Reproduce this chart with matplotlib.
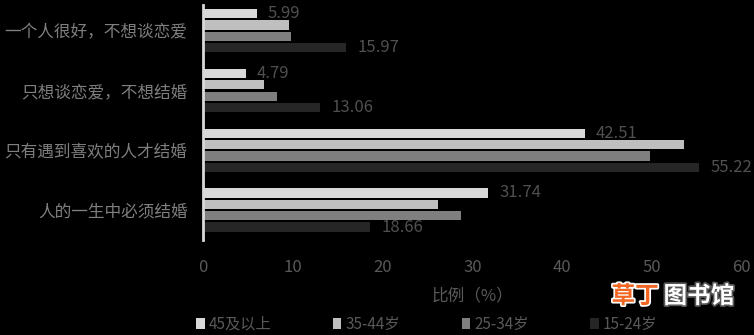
import numpy as np
import matplotlib
matplotlib.use('Agg')
import matplotlib.pyplot as plt
from matplotlib.patches import Patch
import matplotlib.patheffects as pe

plt.rcParams['font.family'] = ['Noto Sans CJK SC', 'DejaVu Sans']

# survey answers, top to bottom
categories = ['一个人很好，不想谈恋爱', '只想谈恋爱，不想结婚',
              '只有遇到喜欢的人才结婚', '人的一生中必须结婚']
age_groups = ['45及以上', '35-44岁', '25-34岁', '15-24岁']
values = {
    '45及以上': [5.99, 4.79, 42.51, 31.74],
    '35-44岁': [9.6, 6.8, 53.6, 26.2],
    '25-34岁': [9.8, 8.2, 49.8, 28.7],
    '15-24岁': [15.97, 13.06, 55.22, 18.66],
}
labelled = ['45及以上', '15-24岁']
colors = ['#d9d9d9', '#bfbfbf', '#7f7f7f', '#262626']

fig = plt.figure(figsize=(7.54, 3.35), dpi=100, facecolor='black')
ax = fig.add_axes([0.269, 0.284, 0.715, 0.701])
ax.set_facecolor('black')

y = np.arange(len(categories))
step = 0.19
for i, g in enumerate(age_groups):
    pos = y + (i - 1.5) * step
    ax.barh(pos, values[g], height=0.155, color=colors[i], label=g)
    if g in labelled:
        for p, v in zip(pos, values[g]):
            ax.annotate(f'{v:.2f}', (v, p), xytext=(8, 0), textcoords='offset points',
                        va='center', ha='left', fontsize=12, color='#505050')

ax.set_xlim(0, 60)
ax.set_ylim(3.5, -0.43)
ax.set_xticks(range(0, 61, 10))
ax.set_yticks(y)
ax.set_yticklabels(categories, fontsize=12, color='#7f7f7f')
ax.tick_params(axis='x', labelsize=12, colors='#595959', length=0, pad=14)
ax.tick_params(axis='y', length=0, pad=11)
for s in ['top', 'right', 'bottom']:
    ax.spines[s].set_visible(False)
ax.spines['left'].set_color('#d9d9d9')
ax.spines['left'].set_linewidth(2)
ax.set_xlabel('比例（%）', fontsize=12, color='#595959', labelpad=8)

handles = [Patch(facecolor=c, label=g) for c, g in zip(colors, age_groups)]
leg = fig.legend(handles=handles, loc='lower left', bbox_to_anchor=(0.242, -0.035),
                 ncol=4, frameon=False, fontsize=11, handlelength=0.55, handleheight=0.7,
                 handletextpad=0.25, columnspacing=4.05)
for t in leg.get_texts():
    t.set_color('#595959')

# watermark
fig.text(0.811, 0.095, '草丁', fontsize=17, fontweight='bold', color='#f26522',
         path_effects=[pe.withStroke(linewidth=2.5, foreground='white')])
fig.text(0.880, 0.095, '图书馆', fontsize=17, fontweight='bold', color='white',
         path_effects=[pe.withStroke(linewidth=2.5, foreground='#555555')])

fig.savefig('out.png', dpi=100, facecolor='black')
